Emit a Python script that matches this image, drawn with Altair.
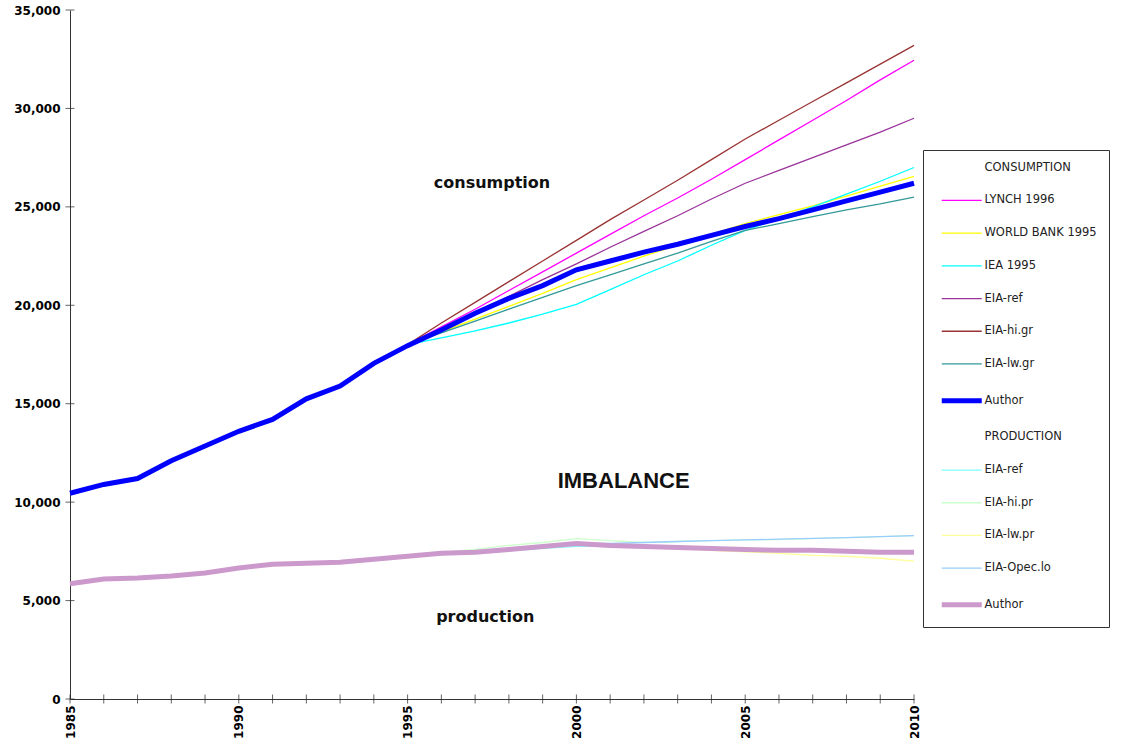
import altair as alt
import pandas as pd

# ---------------- data ----------------
years_all = list(range(1985, 2011))
years_proj = list(range(1995, 2011))
x_label_years = [1985, 1990, 1995, 2000, 2005, 2010]
y_ticks = [0, 5000, 10000, 15000, 20000, 25000, 30000, 35000]

cons_author = [10450, 10900, 11200, 12100, 12850, 13600, 14200, 15250, 15900, 17050,
               17950, 18750, 19600, 20350, 21000, 21800, 22250, 22700, 23100, 23550,
               24000, 24400, 24850, 25300, 25750, 26200]
lynch_1996 = [18000, 18900, 19800, 20750, 21700, 22650, 23600, 24550, 25450, 26400,
              27400, 28400, 29400, 30400, 31450, 32450]
world_bank_1995 = [18000, 18650, 19300, 19950, 20600, 21300, 21900, 22500, 23050, 23600,
                   24150, 24600, 25050, 25550, 26050, 26550]
iea_1995 = [18000, 18350, 18700, 19100, 19550, 20050, 20800, 21550, 22250, 23050,
            23800, 24400, 25000, 25650, 26300, 27000]
eia_ref_cons = [18000, 18800, 19650, 20450, 21300, 22100, 22950, 23750, 24550, 25400,
                26200, 26850, 27500, 28150, 28800, 29500]
eia_hi_gr = [18000, 19100, 20150, 21200, 22250, 23300, 24350, 25350, 26350, 27400,
             28450, 29400, 30350, 31300, 32250, 33200]
eia_lw_gr = [18000, 18600, 19200, 19800, 20400, 21000, 21550, 22100, 22650, 23250,
             23800, 24150, 24500, 24850, 25150, 25500]

prod_author = [5850, 6100, 6150, 6250, 6400, 6650, 6850, 6900, 6950, 7100,
               7250, 7400, 7450, 7600, 7750, 7900, 7800, 7750, 7700, 7650,
               7600, 7550, 7550, 7500, 7450, 7450]
eia_ref_prod = [7250, 7330, 7420, 7530, 7650, 7750, 7750, 7720, 7700, 7650,
                7600, 7550, 7530, 7500, 7470, 7450]
eia_hi_pr = [7250, 7450, 7600, 7800, 7950, 8150, 8050, 7950, 8000, 8050,
             8080, 8100, 8150, 8200, 8250, 8300]
eia_lw_pr = [7250, 7350, 7450, 7580, 7720, 7850, 7800, 7750, 7650, 7550,
             7480, 7400, 7300, 7250, 7150, 7000]
eia_opec_lo = [7250, 7380, 7500, 7620, 7780, 7900, 7900, 7950, 8000, 8050,
               8080, 8120, 8160, 8200, 8250, 8300]

legend_keys = ["CONSUMPTION", "LYNCH 1996", "WORLD BANK 1995", "IEA 1995", "EIA-ref|c",
               "EIA-hi.gr", "EIA-lw.gr", "Author|c", "PRODUCTION", "EIA-ref|p",
               "EIA-hi.pr", "EIA-lw.pr", "EIA-Opec.lo", "Author|p"]
legend_colors = ["transparent", "#ff00ff", "#ffff00", "#00ffff", "#993399",
                 "#993333", "#339999", "#0000ff", "transparent", "#80ffff",
                 "#ccffcc", "#ffff99", "#99ccff", "#cc99cc"]

# ---------------- build long table ----------------
rows = []
def add(name, years, vals):
    for y, v in zip(years, vals):
        rows.append({"year": y, "value": v, "series": name})

add("LYNCH 1996", years_proj, lynch_1996)
add("WORLD BANK 1995", years_proj, world_bank_1995)
add("IEA 1995", years_proj, iea_1995)
add("EIA-ref|c", years_proj, eia_ref_cons)
add("EIA-hi.gr", years_proj, eia_hi_gr)
add("EIA-lw.gr", years_proj, eia_lw_gr)
add("EIA-ref|p", years_proj, eia_ref_prod)
add("EIA-hi.pr", years_proj, eia_hi_pr)
add("EIA-lw.pr", years_proj, eia_lw_pr)
add("EIA-Opec.lo", years_proj, eia_opec_lo)
others = pd.DataFrame(rows)

rows = []
add("Author|p", years_all, prod_author)
add("Author|c", years_all, cons_author)
authors = pd.DataFrame(rows)

font = "Liberation Sans"
bfont = "DejaVu Sans"

x_scale = alt.Scale(domain=[1985, 2010], nice=False, zero=False)
y_scale = alt.Scale(domain=[0, 35000], nice=False)

x_enc = alt.X("year:Q", scale=x_scale,
              axis=alt.Axis(title=None, values=x_label_years, grid=False, ticks=False,
                            format="d", labelAngle=270, labelAlign="right",
                            labelBaseline="middle", labelFont=bfont,
                            labelFontWeight="bold", labelFontSize=12,
                            labelColor="black", labelPadding=6, labelOverlap=False,
                            labelFlush=False, domainColor="#333"))
y_enc = alt.Y("value:Q", scale=y_scale,
              axis=alt.Axis(title=None, values=y_ticks, format=",d", grid=False,
                            ticks=False, labelFont=bfont, labelFontWeight="bold",
                            labelFontSize=12, labelColor="black", labelPadding=10,
                            labelFlush=False, domainColor="#333"))

color_enc = alt.Color(
    "series:N",
    scale=alt.Scale(domain=legend_keys, range=legend_colors),
    legend=alt.Legend(
        orient="none", legendX=853, legendY=140, title=None,
        symbolType="stroke", symbolSize=1600, symbolOffset=21,
        labelFont="DejaVu Sans", labelFontSize=11.5, labelColor="#222",
        labelExpr="split(datum.label, '|')[0]",
        rowPadding=19.7, labelOffset=17,
        strokeColor="#333", padding=12, fillColor="white",
        symbolStrokeWidth=alt.ExprRef(
            "indexof(['Author|c','Author|p'], datum.value) >= 0 ? 5 : 1.3")))

lines_others = alt.Chart(others).mark_line(strokeWidth=1.3).encode(
    x=x_enc, y=y_enc, color=color_enc, detail="series:N")
lines_authors = alt.Chart(authors).mark_line(strokeWidth=5).encode(
    x=x_enc, y=y_enc, color=color_enc, detail="series:N")

x_ticks = alt.Chart(pd.DataFrame({"year": years_all})).mark_tick(
    orient="vertical", size=9, thickness=1, color="#222").encode(
    x=alt.X("year:Q", scale=x_scale), y=alt.datum(0))
y_tick_marks = alt.Chart(pd.DataFrame({"value": y_ticks})).mark_tick(
    orient="horizontal", size=9, thickness=1, color="#222").encode(
    y=alt.Y("value:Q", scale=y_scale), x=alt.datum(1985))

ann_cons = alt.Chart(pd.DataFrame({"t": ["consumption"]})).mark_text(
    font=bfont, fontSize=16, fontWeight="bold", color="#111").encode(
    x=alt.datum(1997.5), y=alt.datum(26200), text="t:N")
ann_imb = alt.Chart(pd.DataFrame({"t": ["IMBALANCE"]})).mark_text(
    font=font, fontSize=22, fontWeight="bold", color="#111").encode(
    x=alt.datum(2001.4), y=alt.datum(11080), text="t:N")
ann_prod = alt.Chart(pd.DataFrame({"t": ["production"]})).mark_text(
    font=bfont, fontSize=16, fontWeight="bold", color="#111").encode(
    x=alt.datum(1997.3), y=alt.datum(4170), text="t:N")

chart = alt.layer(lines_others, lines_authors, x_ticks, y_tick_marks,
                  ann_cons, ann_imb, ann_prod).properties(
    width=844, height=689, autosize="none",
    padding={"left": 70, "top": 10, "right": 208, "bottom": 50},
    background="white"
).configure_view(stroke=None)

chart.save("out.html", embed_options={"renderer": "svg", "actions": False})
